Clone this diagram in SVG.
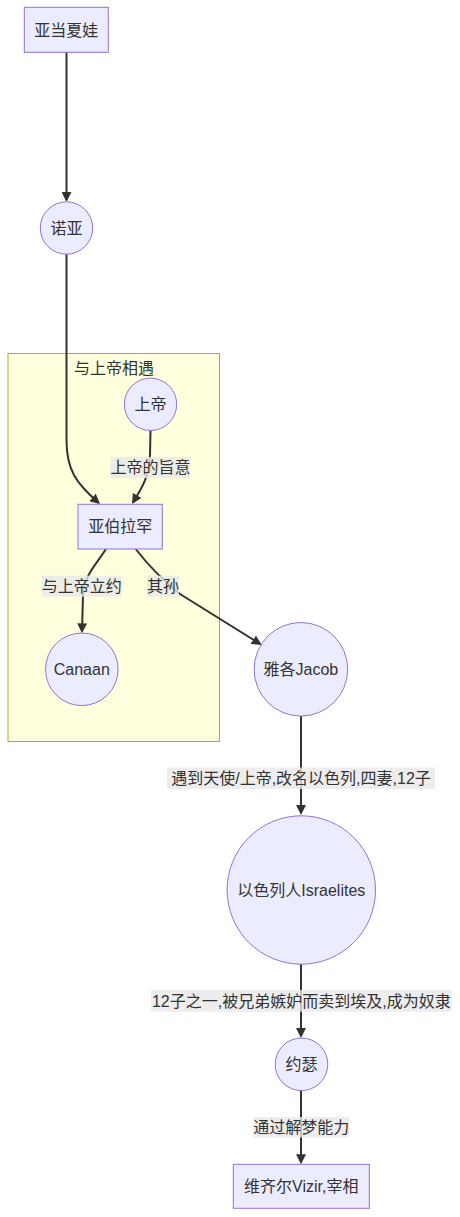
<svg xmlns="http://www.w3.org/2000/svg" width="460" height="1217" viewBox="0 0 460 1217">
<style>
text{font-family:"Liberation Sans","Noto Sans CJK SC",sans-serif;font-size:16px;fill:#333;text-anchor:middle;dominant-baseline:central}
.node{fill:#ECECFF;stroke:#9370DB;stroke-width:1}
.cluster{fill:#ffffde;stroke:#aaaa33;stroke-width:1}
.edge{fill:none;stroke:#333;stroke-width:2}
.lbl{fill:#e8e8e8;opacity:0.8}
</style>
<defs>
<marker id="arrow" viewBox="0 0 10 10" refX="8" refY="5" markerWidth="10" markerHeight="10" markerUnits="userSpaceOnUse" orient="auto">
<path d="M0,0 L10,5 L0,10 z" fill="#333"/>
</marker>
</defs>
<g id="cluster-meet">
<rect class="cluster" x="8" y="353.5" width="211.5" height="388"/>
<text x="114" y="368">与上帝相遇</text>
</g>
<g id="edges">
<path class="edge" marker-end="url(#arrow)" d="M66.5,52 L66.5,200"/>
<path class="edge" marker-end="url(#arrow)" d="M66.5,254 L66.5,440 C66.5,470 76,483 98.5,502.7"/>
<path class="edge" marker-end="url(#arrow)" d="M150.5,430 L150,455 C149,478 141,489 133,502.3"/>
<path class="edge" marker-end="url(#arrow)" d="M106,549 C98,562 84,575 83,595 L82,631.3"/>
<path class="edge" marker-end="url(#arrow)" d="M135.7,549 Q155,574 180,594 L260,643.9"/>
<path class="edge" marker-end="url(#arrow)" d="M301,716 L301,813"/>
<path class="edge" marker-end="url(#arrow)" d="M301,964 L301,1036"/>
<path class="edge" marker-end="url(#arrow)" d="M301,1090.5 L301,1162.3"/>
<rect class="lbl" x="110.5" y="457" width="80" height="21"/>
<text x="150.5" y="467.5">上帝的旨意</text>
<rect class="lbl" x="41.7" y="575.7" width="80" height="21"/>
<text x="81.7" y="586">与上帝立约</text>
<rect class="lbl" x="147" y="575.7" width="32" height="21"/>
<text x="163" y="586">其孙</text>
<rect class="lbl" x="167" y="767.5" width="268" height="21.5"/>
<text x="301" y="778">遇到天使/上帝,改名以色列,四妻,12子</text>
<rect class="lbl" x="151" y="990" width="300.7" height="21.7"/>
<text x="301.3" y="1001">12子之一,被兄弟嫉妒而卖到埃及,成为奴隶</text>
<rect class="lbl" x="253.3" y="1117" width="95.7" height="20.5"/>
<text x="301.2" y="1127.2">通过解梦能力</text>
</g>
<g id="n-adam">
<rect class="node" x="24.3" y="7.3" width="84" height="45"/>
<text x="66.3" y="30">亚当夏娃</text>
</g>
<g id="n-noah">
<circle class="node" cx="66.5" cy="228" r="26.2"/>
<text x="66.5" y="228">诺亚</text>
</g>
<g id="n-god">
<circle class="node" cx="150.5" cy="404.3" r="26.2"/>
<text x="150.5" y="404.3">上帝</text>
</g>
<g id="n-abraham">
<rect class="node" x="78" y="504.3" width="84.3" height="44.7"/>
<text x="120.2" y="526.7">亚伯拉罕</text>
</g>
<g id="n-canaan">
<circle class="node" cx="81.8" cy="669.3" r="36.3"/>
<text x="81.8" y="669.3">Canaan</text>
</g>
<g id="n-jacob">
<circle class="node" cx="300.9" cy="669.3" r="46.8"/>
<text x="300.9" y="669.3">雅各Jacob</text>
</g>
<g id="n-israelites">
<circle class="node" cx="301.3" cy="890" r="74.2"/>
<text x="301.3" y="890">以色列人Israelites</text>
</g>
<g id="n-joseph">
<circle class="node" cx="301.5" cy="1064.3" r="26.3"/>
<text x="301.5" y="1064.3">约瑟</text>
</g>
<g id="n-vizir">
<rect class="node" x="233.3" y="1164.3" width="136" height="44"/>
<text x="301.3" y="1186.3">维齐尔Vizir,宰相</text>
</g>
</svg>
